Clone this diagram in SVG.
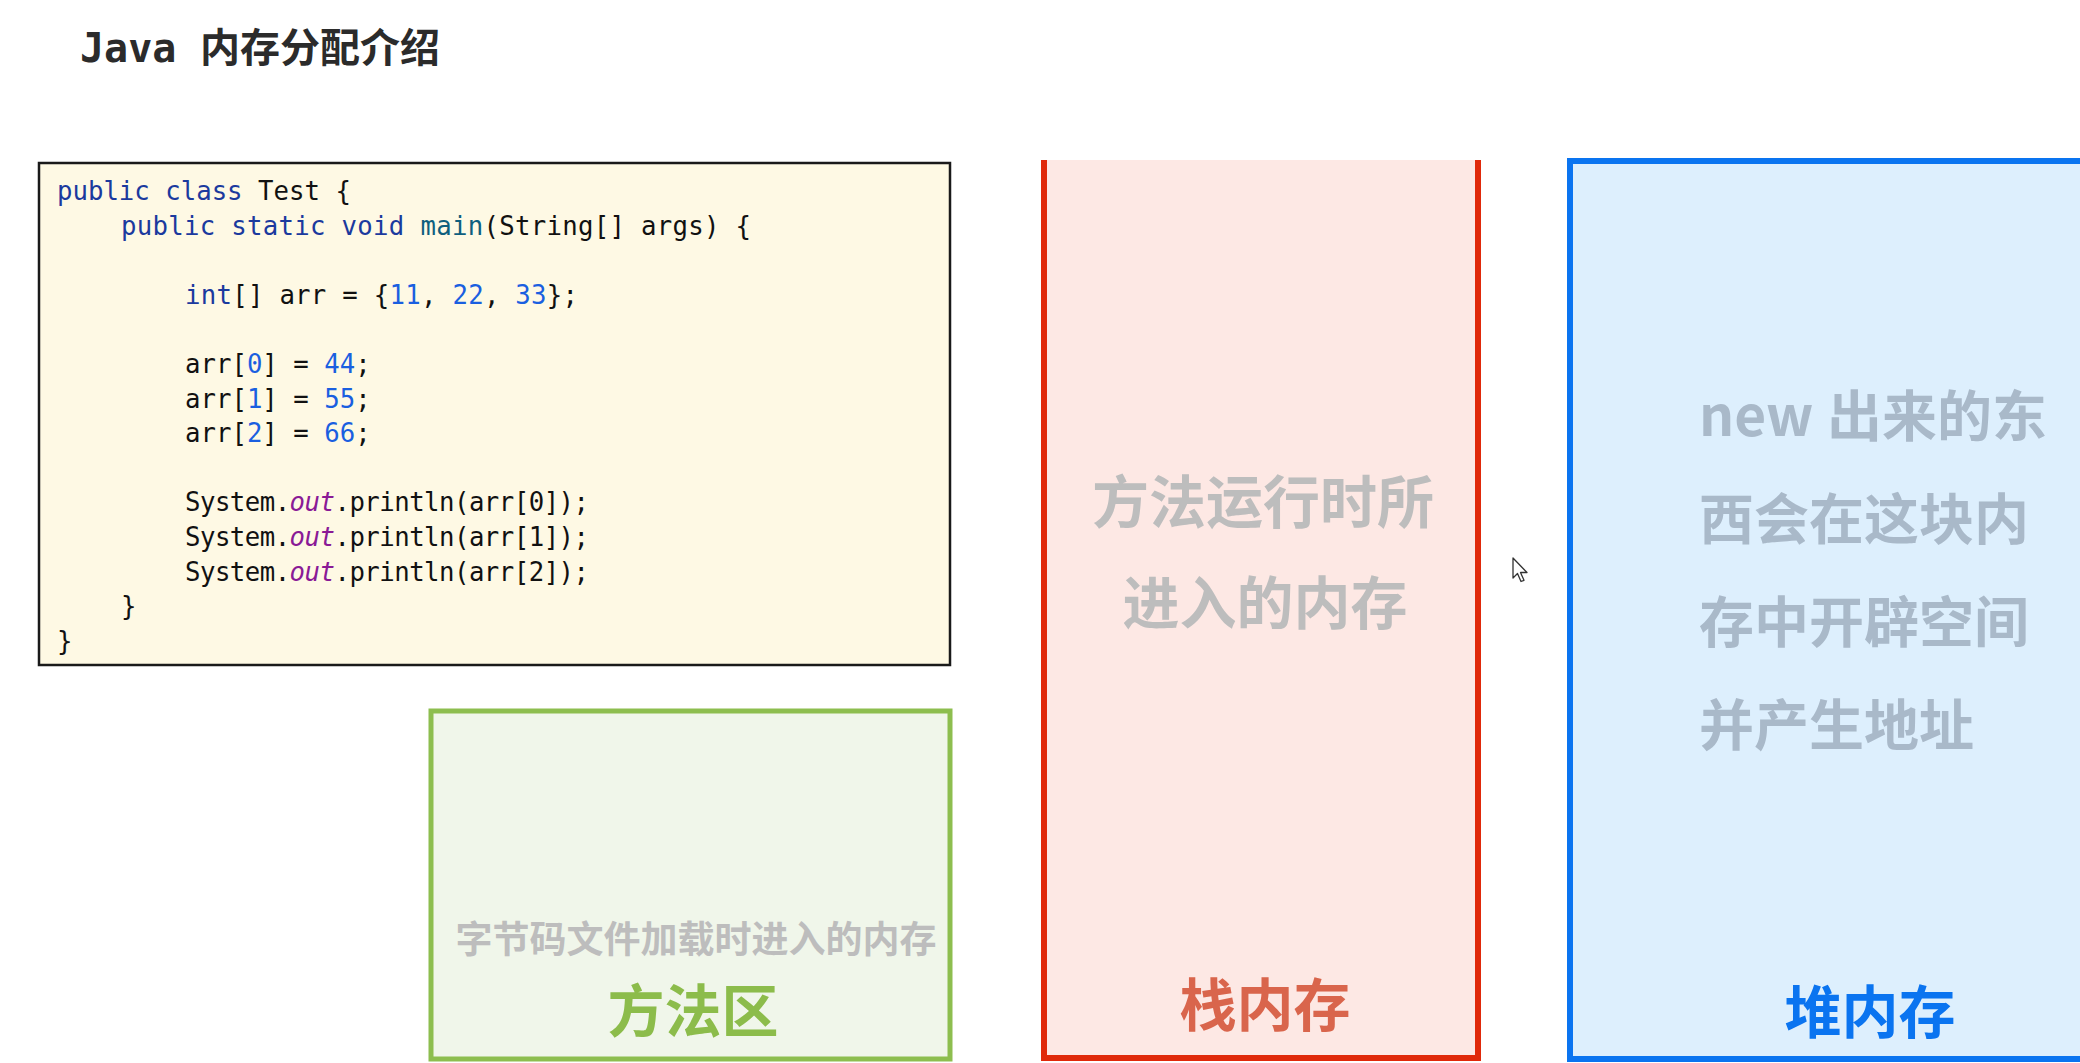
<svg xmlns="http://www.w3.org/2000/svg" width="2080" height="1063" viewBox="0 0 2080 1063">
<style>
.cjk{font-family:"Noto Sans CJK SC","Noto Sans",sans-serif;font-weight:bold}
.code{font-family:"DejaVu Sans Mono","Liberation Mono",monospace;font-size:25.7px;fill:#111}
.kw{fill:#1B3A9E}
.fn{fill:#0E5F7E}
.num{fill:#1A5FE0}
.out{fill:#8A1A96;font-style:italic}
.gray{fill:#BDBDBD}
</style>
<rect x="0" y="0" width="2080" height="1063" fill="#FFFFFF"/>
<g id="title">
<text x="80" y="62" font-size="40" fill="#2B2B2B"><tspan font-family="DejaVu Sans Mono, monospace" font-weight="bold">Java</tspan><tspan x="200" class="cjk">内存分配介绍</tspan></text>
</g>
<g id="code-box">
<rect x="39" y="163" width="911" height="502" fill="#FEF9E4" stroke="#1A1A1A" stroke-width="2.5"/>
<text class="code" x="57" y="200"><tspan class="kw">public class</tspan> Test {</text>
<text class="code" x="121" y="234.6" textLength="630" lengthAdjust="spacing"><tspan class="kw">public static void</tspan> <tspan class="fn">main</tspan>(String[] args) {</text>
<text class="code" x="185" y="303.8" textLength="393" lengthAdjust="spacing"><tspan class="kw">int</tspan>[] arr = {<tspan class="num">11</tspan>, <tspan class="num">22</tspan>, <tspan class="num">33</tspan>};</text>
<text class="code" x="185" y="373">arr[<tspan class="num">0</tspan>] = <tspan class="num">44</tspan>;</text>
<text class="code" x="185" y="407.6">arr[<tspan class="num">1</tspan>] = <tspan class="num">55</tspan>;</text>
<text class="code" x="185" y="442.2">arr[<tspan class="num">2</tspan>] = <tspan class="num">66</tspan>;</text>
<text class="code" x="185" y="511.4" textLength="404" lengthAdjust="spacing">System.<tspan class="out">out</tspan>.println(arr[0]);</text>
<text class="code" x="185" y="546" textLength="404" lengthAdjust="spacing">System.<tspan class="out">out</tspan>.println(arr[1]);</text>
<text class="code" x="185" y="580.6" textLength="404" lengthAdjust="spacing">System.<tspan class="out">out</tspan>.println(arr[2]);</text>
<text class="code" x="121" y="615.2">}</text>
<text class="code" x="57" y="649.8">}</text>
</g>
<g id="method-area">
<rect x="431" y="711" width="519" height="348" fill="#F0F6EA" stroke="#8DBE4F" stroke-width="5"/>
<text class="cjk gray" x="696" y="953" font-size="37" text-anchor="middle">字节码文件加载时进入的内存</text>
<text class="cjk" x="693" y="1032" font-size="57" text-anchor="middle" fill="#8CBC4B">方法区</text>
</g>
<g id="stack-memory">
<rect x="1044" y="160" width="434" height="898" fill="#FDE8E4"/>
<path d="M1044,160 V1058 H1478 V160" fill="none" stroke="#E0290A" stroke-width="6"/>
<text class="cjk gray" x="1263" y="523" font-size="57" text-anchor="middle">方法运行时所</text>
<text class="cjk gray" x="1265" y="624" font-size="57" text-anchor="middle">进入的内存</text>
<text class="cjk" x="1265" y="1026" font-size="57" text-anchor="middle" fill="#D9654C">栈内存</text>
</g>
<g id="heap-memory">
<rect x="1570" y="161" width="600" height="898" fill="#DDEFFD" stroke="#0A74F0" stroke-width="6"/>
<g class="cjk" font-size="55" fill="#A9B9C9">
<text x="1699" y="436">new<tspan x="1827">出来的东</tspan></text>
<text x="1699" y="539">西会在这块内</text>
<text x="1699" y="642">存中开辟空间</text>
<text x="1699" y="745">并产生地址</text>
</g>
<text class="cjk" x="1870" y="1033" font-size="57" text-anchor="middle" fill="#0A74F0">堆内存</text>
</g>
<g id="connectors"></g>
<g id="cursor">
<path d="M1513,558 L1513,578 L1517.5,573.5 L1521,581.5 L1524,580.3 L1520.5,572.5 L1527,572.5 Z" fill="#FFFFFF" stroke="#333333" stroke-width="1.3" stroke-linejoin="round"/>
</g>
</svg>
